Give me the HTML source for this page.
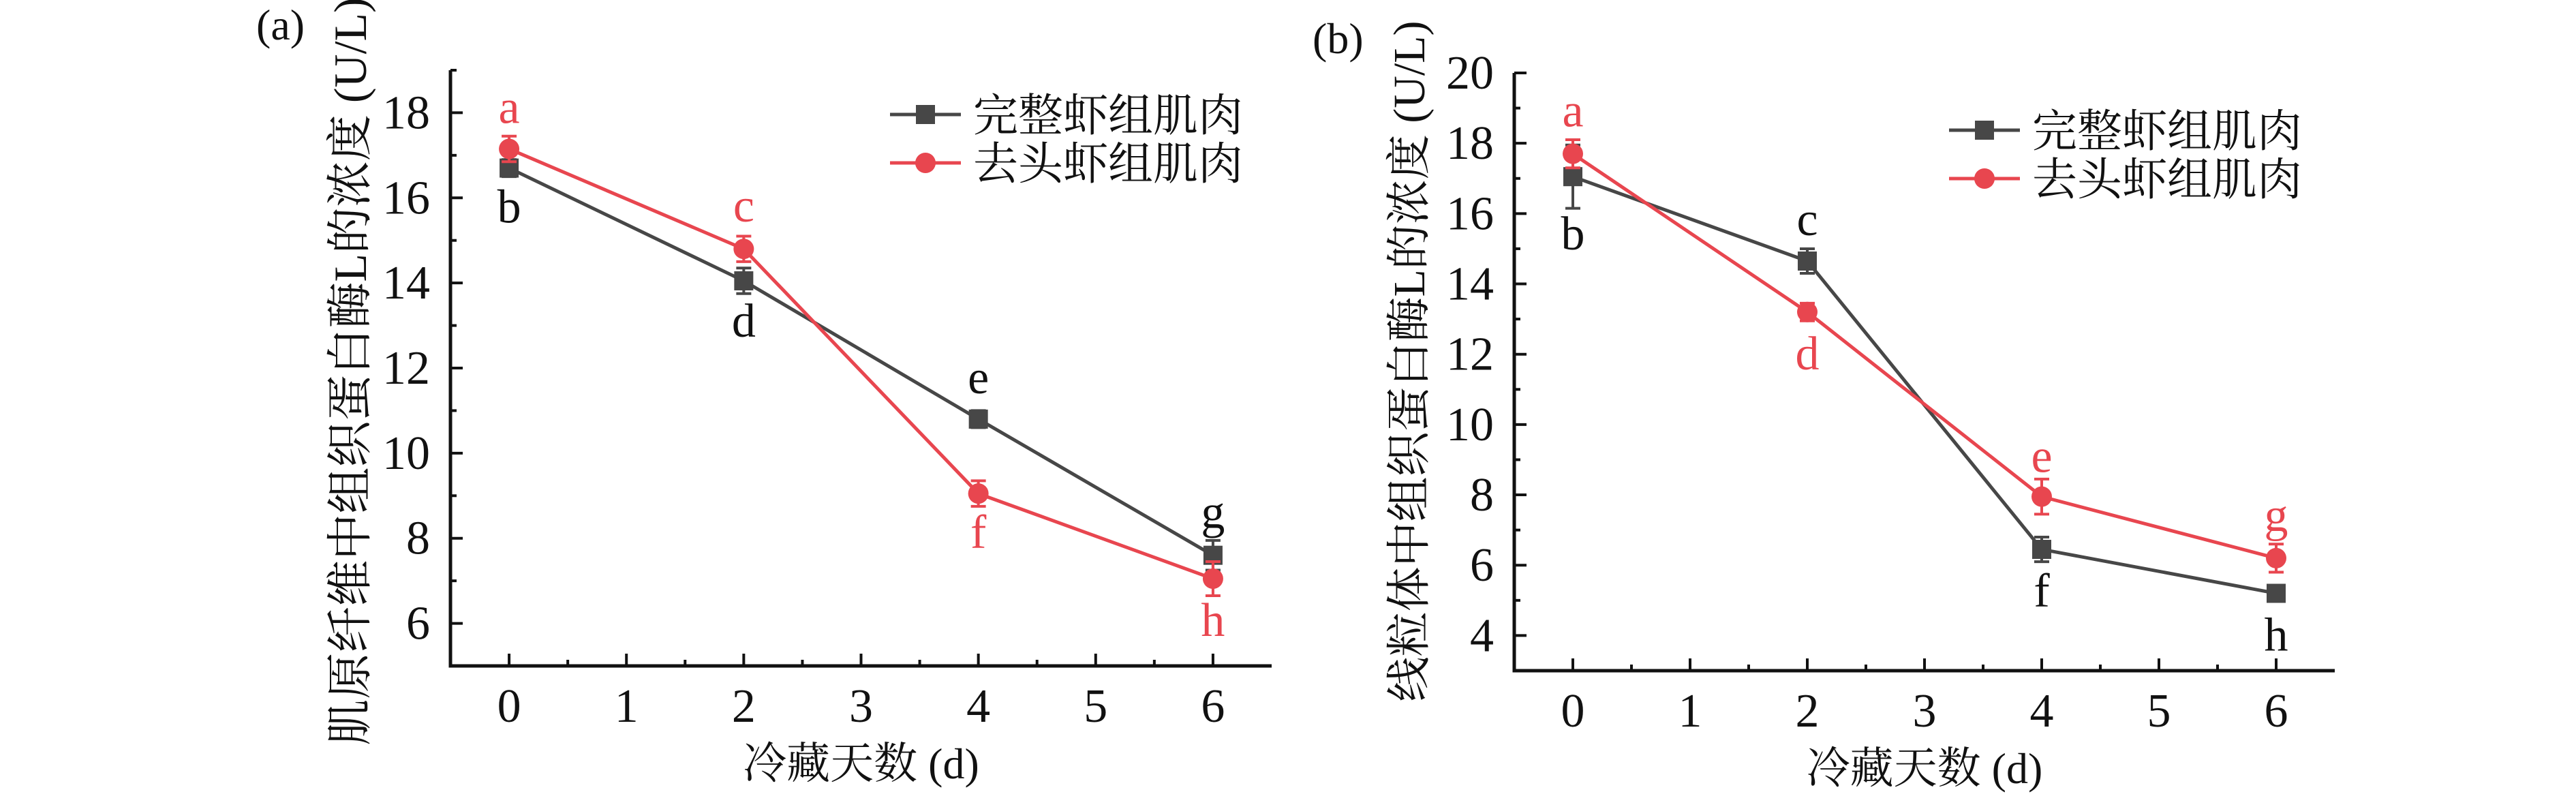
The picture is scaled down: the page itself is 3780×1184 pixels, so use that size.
<!DOCTYPE html>
<html><head><meta charset="utf-8">
<style>
html,body{margin:0;padding:0;background:#fff;}
svg{display:block;}
</style></head>
<body>
<svg id="chart" width="3780" height="1184" viewBox="0 0 3780 1184" xmlns="http://www.w3.org/2000/svg"></svg>
<script>
// Shared data
const days = [0, 2, 4, 6];
const xTicks = [0, 1, 2, 3, 4, 5, 6];
const seriesNames = ["完整虾组肌肉", "去头虾组肌肉"];
// Panel (a)
const aWhole = [16.7, 14.05, 10.8, 7.6];
const aWholeErr = [0.2, 0.3, 0.2, 0.35];
const aHeadless = [17.15, 14.8, 9.05, 7.05];
const aHeadlessErr = [0.3, 0.3, 0.3, 0.4];
const aWholeLetters = ["b", "d", "e", "g"];
const aHeadlessLetters = ["a", "c", "f", "h"];
const aYTicks = [6, 8, 10, 12, 14, 16, 18];
// Panel (b)
const bWhole = [17.05, 14.65, 6.45, 5.2];
const bWholeErr = [0.9, 0.35, 0.35, 0.1];
const bHeadless = [17.7, 13.2, 7.95, 6.2];
const bHeadlessErr = [0.4, 0.25, 0.5, 0.4];
const bWholeLetters = ["b", "c", "f", "h"];
const bHeadlessLetters = ["a", "d", "e", "g"];
const bYTicks = [4, 6, 8, 10, 12, 14, 16, 18, 20];

const NS = "http://www.w3.org/2000/svg";
const svg = document.getElementById("chart");
const GRAY = "#474747", RED = "#e8464f";
const FONT = '"Liberation Serif", "Noto Serif CJK SC", serif';

function mk(tag, attrs, parent, txt) {
  const e = document.createElementNS(NS, tag);
  for (const k in attrs) e.setAttribute(k, attrs[k]);
  if (txt !== undefined) { e.textContent = txt; e.setAttribute("font-family", FONT); }
  (parent || svg).appendChild(e);
  return e;
}

function panel(cfg) {
  const g = mk("g", {});
  
  
  const X = v => cfg.x0 + (v - cfg.xmin) / (cfg.xmax - cfg.xmin) * (cfg.x1 - cfg.x0);
  const Y = v => cfg.y0 - (v - cfg.ymin) / (cfg.ymax - cfg.ymin) * (cfg.y0 - cfg.y1);

  const ax = mk("path", {d:`M${cfg.x0},${cfg.y1} L${cfg.x0},${cfg.y0} L${cfg.x1},${cfg.y0}`, fill:"none", stroke:"#111", "stroke-width":5}, g);
  
  

  for (let v = cfg.ymin; v <= cfg.ymax + 1e-9; v += 1) {
    const major = cfg.yTicks.includes(v);
    const t = mk("line", {x1:cfg.x0, x2:cfg.x0 + (major ? 18 : 9), y1:Y(v), y2:Y(v), stroke:"#111", "stroke-width":4}, g);
    
    
  }
  cfg.yTicks.forEach(v => {
    const t = mk("text", {x:cfg.x0 - 30, y:Y(v) + 23, "text-anchor":"end", "font-size":70, fill:"#111"}, g, String(v));
    
    
  });
  for (let v = 0; v <= 6.01; v += 0.5) {
    const major = Math.abs(v - Math.round(v)) < 1e-9;
    const t = mk("line", {x1:X(v), x2:X(v), y1:cfg.y0, y2:cfg.y0 - (major ? 18 : 9), stroke:"#111", "stroke-width":4}, g);
    
    
  }
  xTicks.forEach(v => {
    const t = mk("text", {x:X(v), y:cfg.y0 + 82, "text-anchor":"middle", "font-size":70, fill:"#111"}, g, String(v));
    
    
  });
  const xt = mk("text", {x:(cfg.x0 + cfg.x1) / 2, y:cfg.y0 + 165, "text-anchor":"middle", "font-size":64, fill:"#111"}, g, "冷藏天数 (d)");
  
  
  const yt = mk("text", {x:0, y:0, "text-anchor":"middle", "font-size":cfg.ytSize, fill:"#111", transform:`translate(${cfg.ytX},${cfg.ytY}) rotate(-90)`}, g, cfg.ytitle);
  
  
  const pl = mk("text", {x:cfg.plX, y:cfg.plY, "font-size":64, fill:"#111"}, g, cfg.plabel);
  
  

  const series = [
    {vals:cfg.whole, err:cfg.wholeErr, col:GRAY, sq:true, letters:cfg.wholeLetters, off:cfg.wholeOff, nm:'series-whole'},
    {vals:cfg.headless, err:cfg.headlessErr, col:RED, sq:false, letters:cfg.headlessLetters, off:cfg.headlessOff, nm:'series-headless'}
  ];
  series.forEach(s => {
    const sg = mk("g", {}, g);
    
    
    const pts = days.map((d, i) => `${X(d)},${Y(s.vals[i])}`).join(" ");
    const ln = mk("polyline", {points:pts, fill:"none", stroke:s.col, "stroke-width":5}, sg);
    
    
    days.forEach((d, i) => {
      const cx = X(d), cy = Y(s.vals[i]), top = Y(s.vals[i] + s.err[i]), bot = Y(s.vals[i] - s.err[i]);
      const eb = mk("path", {d:`M${cx},${top} L${cx},${bot} M${cx-11},${top} L${cx+11},${top} M${cx-11},${bot} L${cx+11},${bot}`, stroke:s.col, "stroke-width":4, fill:"none"}, sg);
      
      
      let m;
      if (s.sq) m = mk("rect", {x:cx - 14, y:cy - 14, width:28, height:28, fill:s.col}, sg);
      else m = mk("circle", {cx:cx, cy:cy, r:15, fill:s.col}, sg);
      
      
      const lt = mk("text", {x:cx, y:cy + s.off[i] + 22, "text-anchor":"middle", "font-size":70, fill:s.col === GRAY ? "#111" : RED}, sg, s.letters[i]);
      
      
    });
  });

  const lg = mk("g", {}, g);
  
  
  [[GRAY, true], [RED, false]].forEach((c, i) => {
    const ly = cfg.legY + i * 71;
    const l = mk("line", {x1:cfg.legX, x2:cfg.legX + 104, y1:ly, y2:ly, stroke:c[0], "stroke-width":5}, lg);
    
    
    const mx = cfg.legX + 52;
    let m;
    if (c[1]) m = mk("rect", {x:mx - 14, y:ly - 14, width:28, height:28, fill:c[0]}, lg);
    else m = mk("circle", {cx:mx, cy:ly, r:15, fill:c[0]}, lg);
    
    
    const t = mk("text", {x:cfg.legX + 122, y:ly + 24, "font-size":66, fill:"#111"}, lg, seriesNames[i]);
    
    
  });
}

panel({
  name:'panel-a', x0:661, x1:1866, xmin:-0.5, xmax:6.5, y0:977, y1:103, ymin:5, ymax:19,
  yTicks:aYTicks, whole:aWhole, wholeErr:aWholeErr, headless:aHeadless, headlessErr:aHeadlessErr,
  wholeLetters:aWholeLetters, headlessLetters:aHeadlessLetters,
  wholeOff:[+58, +60, -60, -62], headlessOff:[-60, -62, +58, +62],
  ytitle:"肌原纤维中组织蛋白酶L的浓度 (U/L)", ytX:537, ytY:545, ytSize:68,
  plabel:"(a)", plX:376, plY:58, legX:1306, legY:168
});
panel({
  name:'panel-b', x0:2222, x1:3426, xmin:-0.5, xmax:6.5, y0:984, y1:107, ymin:3, ymax:20,
  yTicks:bYTicks, whole:bWhole, wholeErr:bWholeErr, headless:bHeadless, headlessErr:bHeadlessErr,
  wholeLetters:bWholeLetters, headlessLetters:bHeadlessLetters,
  wholeOff:[+85, -60, +62, +62], headlessOff:[-62, +62, -58, -62],
  ytitle:"线粒体中组织蛋白酶L的浓度 (U/L)", ytX:2090, ytY:530, ytSize:66,
  plabel:"(b)", plX:1926, plY:78, legX:2860, legY:191
});
</script>
</body></html>
